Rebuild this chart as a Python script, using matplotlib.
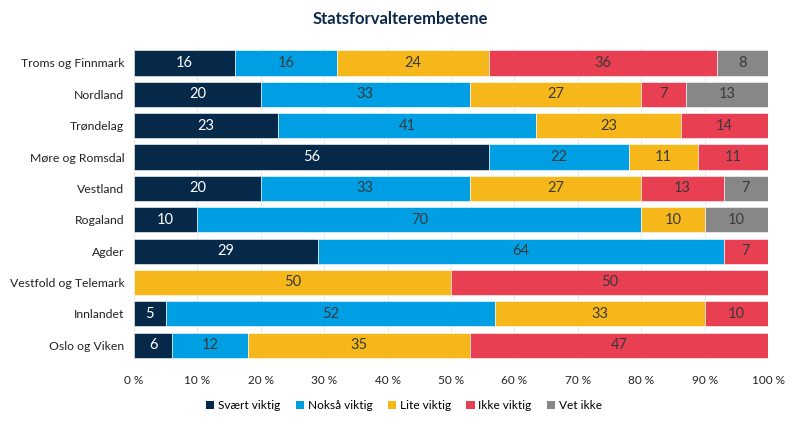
import numpy as np
import matplotlib.pyplot as plt
from matplotlib.patches import Patch

plt.rcParams['font.family'] = ['Lato', 'DejaVu Sans']

regions = ['Troms og Finnmark', 'Nordland', 'Trøndelag', 'Møre og Romsdal', 'Vestland',
           'Rogaland', 'Agder', 'Vestfold og Telemark', 'Innlandet', 'Oslo og Viken']
series = ['Svært viktig', 'Nokså viktig', 'Lite viktig', 'Ikke viktig', 'Vet ikke']

svaert = [16, 20, 22.7, 56, 20, 10, 29, 0, 5, 6]
noksa = [16, 33, 40.7, 22, 33, 70, 64, 0, 52, 12]
lite = [24, 27, 22.9, 11, 27, 10, 0, 50, 33, 35]
ikke = [36, 7, 13.7, 11, 13, 0, 7, 50, 10, 47]
vet = [8, 13, 0, 0, 7, 10, 0, 0, 0, 0]

colors = ['#06294a', '#009fe3', '#f6b71a', '#e83f53', '#878787']
text_colors = ['white', '#3a3a3a', '#3a3a3a', '#3a3a3a', '#3a3a3a']

fig = plt.figure(figsize=(8, 4.26), dpi=100)
ax = fig.add_axes([0.1675, 0.153, 0.7925, 0.736])

y = np.arange(len(regions))
left = np.zeros(len(regions))
for vals, col, tc in zip([svaert, noksa, lite, ikke, vet], colors, text_colors):
    vals = np.array(vals, dtype=float)
    ax.barh(y, vals, left=left, height=0.8, color=col, edgecolor='white', linewidth=0.4, zorder=2)
    for yi, l, v in zip(y, left, vals):
        if v > 0:
            ax.text(l + v / 2, yi, str(int(round(v))), ha='center', va='center',
                    color=tc, fontsize=10.5, zorder=3)
    left += vals

ax.set_xlim(0, 100)
ax.set_ylim(len(regions) - 0.5, -0.5)
ax.set_yticks(y)
ax.set_yticklabels(regions, fontsize=8.8, color='#222222')
ax.set_xticks(np.arange(0, 101, 10))
ax.set_xticklabels([f'{v} %' for v in range(0, 101, 10)], fontsize=8.5, color='#222222')
ax.tick_params(axis='y', length=0, pad=7)
ax.tick_params(axis='x', length=0, pad=10)
for s in ax.spines.values():
    s.set_visible(False)
ax.grid(axis='x', color='#ececec', linewidth=0.8, zorder=0)
ax.axvline(0, color='#e0e0e0', linewidth=0.8, zorder=1)

fig.text(0.5, 0.955, 'Statsforvalterembetene', ha='center', va='center',
         fontsize=12, fontweight='bold', color='#0b2a4a')

handles = [Patch(facecolor=c, edgecolor='none') for c in colors]
fig.legend(handles, series, loc='center', bbox_to_anchor=(0.505, 0.047), ncol=5,
           frameon=False, fontsize=8.6, handlelength=0.7, handleheight=0.7,
           handletextpad=0.3, columnspacing=1.3)

fig.savefig('out.png', dpi=100)
